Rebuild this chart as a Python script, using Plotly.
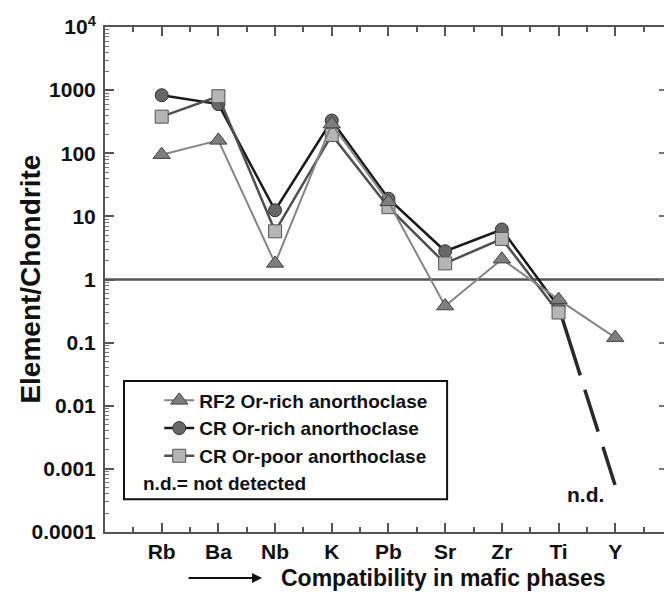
import plotly.graph_objects as go

elements = ["Rb", "Ba", "Nb", "K", "Pb", "Sr", "Zr", "Ti", "Y"]
rf2_or_rich = [95, 160, 1.8, 290, 17, 0.38, 2.1, 0.48, 0.12]
cr_or_rich = [830, 600, 12.5, 330, 19, 2.8, 6.2, 0.37, None]
cr_or_poor = [380, 800, 5.8, 195, 14, 1.8, 4.4, 0.30, None]
nd_level = 0.00054  # plotted position of "not detected" Y for CR samples

ytick_vals = [1e-4, 1e-3, 1e-2, 1e-1, 1, 10, 100, 1000, 1e4]
ytick_text = ["0.0001", "0.001", "0.01", "0.1", "1", "10", "100", "1000", "10<sup>4</sup>"]

xpos = list(range(1, len(elements) + 1))
FONT = "Liberation Sans, Arial, Helvetica, sans-serif"

fig = go.Figure()

# n.d. dashed continuation (CR samples, Ti -> Y)
fig.add_trace(go.Scatter(
    x=[xpos[7], xpos[8]], y=[cr_or_rich[7], nd_level], mode="lines",
    line=dict(color="#2a2a2a", width=3.5, dash="72px,15px,44px,16px,40px"),
    showlegend=False, hoverinfo="skip"))

fig.add_trace(go.Scatter(
    x=xpos, y=cr_or_rich, mode="lines+markers", name="CR Or-rich anorthoclase",
    line=dict(color="#1a1a1a", width=2.5),
    marker=dict(symbol="circle", size=13, color="#676767", line=dict(color="#333333", width=1)),
    legendrank=2))

fig.add_trace(go.Scatter(
    x=xpos, y=cr_or_poor, mode="lines+markers", name="CR Or-poor anorthoclase",
    line=dict(color="#505050", width=2.5),
    marker=dict(symbol="square", size=13, color="#b5b5b5", line=dict(color="#555555", width=1)),
    legendrank=3))

fig.add_trace(go.Scatter(
    x=xpos, y=rf2_or_rich, mode="lines+markers", name="RF2 Or-rich anorthoclase",
    line=dict(color="#858585", width=2),
    marker=dict(symbol="triangle-up", size=15, color="#7e7e7e", line=dict(color="#444444", width=1)),
    legendrank=1))

# dummy trace for right-side ticks
fig.add_trace(go.Scatter(x=[], y=[], yaxis="y2", showlegend=False))

minor_y = [m * 10 ** e for e in range(-4, 4) for m in range(2, 10)]
minor_x = [i + 0.5 for i in range(0, 10)]

fig.update_layout(
    width=664, height=596,
    margin=dict(l=105, r=0, t=27, b=64),
    paper_bgcolor="white", plot_bgcolor="white",
    font=dict(family=FONT, color="black"),
    showlegend=True,
    legend=dict(x=0.097, y=0.298, xanchor="left", yanchor="top",
                bgcolor="rgba(0,0,0,0)", borderwidth=0,
                font=dict(family=FONT, size=19, weight="bold", color="#111"),
                traceorder="normal", tracegroupgap=0),
    xaxis=dict(range=[0, 9.86], showgrid=False, zeroline=False,
               showline=True, linecolor="#555", linewidth=2, mirror="ticks",
               tickmode="array", tickvals=xpos, ticktext=elements,
               ticks="inside", ticklen=9, tickwidth=1.5, tickcolor="#555",
               tickfont=dict(family=FONT, size=21, weight="bold", color="#111"),
               minor=dict(tickmode="array", tickvals=minor_x, ticks="inside",
                          ticklen=5, tickwidth=1.5, tickcolor="#555")),
    yaxis=dict(type="log", range=[-4, 4], showgrid=False, zeroline=False,
               showline=True, linecolor="#555", linewidth=2, mirror=False,
               tickmode="array", tickvals=ytick_vals, ticktext=ytick_text,
               ticks="inside", ticklen=9, tickwidth=1.5, tickcolor="#555",
               ticklabelstandoff=3,
               tickfont=dict(family=FONT, size=21, weight="bold", color="#111"),
               minor=dict(tickmode="array", tickvals=minor_y, ticks="inside",
                          ticklen=4, tickwidth=1, tickcolor="#777")),
    yaxis2=dict(type="log", range=[-4, 4], overlaying="y", side="right",
                showgrid=False, zeroline=False, showline=False,
                tickmode="array", tickvals=ytick_vals, showticklabels=False,
                ticks="inside", ticklen=5, tickwidth=1.5, tickcolor="#777"),
)

# horizontal reference line at 1
fig.add_shape(type="line", xref="paper", yref="y", x0=0, x1=1, y0=1, y1=1,
              line=dict(color="#555", width=2.5), layer="below")

# legend box
fig.add_shape(type="rect", xref="paper", yref="paper",
              x0=0.034, x1=0.612, y0=0.065, y1=0.299,
              line=dict(color="#111", width=2), fillcolor="rgba(0,0,0,0)")

fig.add_annotation(text="n.d.= not detected", xref="paper", yref="paper",
                   x=0.064, y=0.097, xanchor="left", yanchor="middle", showarrow=False,
                   font=dict(family=FONT, size=19, weight="bold", color="#111"))

fig.add_annotation(text="n.d.", xref="paper", yref="paper",
                   x=0.860, y=0.075, xanchor="center", yanchor="middle", showarrow=False,
                   font=dict(family=FONT, size=21, weight="bold", color="#111"))

# axis titles
fig.add_annotation(text="Element/Chondrite", xref="paper", yref="paper",
                   x=-0.134, y=0.5, textangle=-90, showarrow=False,
                   xanchor="center", yanchor="middle",
                   font=dict(family=FONT, size=28, weight="bold", color="#111"))
fig.add_annotation(text="Compatibility in mafic phases", xref="paper", yref="paper",
                   x=0.6055, y=-0.091, showarrow=False,
                   xanchor="center", yanchor="middle",
                   font=dict(family=FONT, size=23, weight="bold", color="#111"))
fig.add_annotation(text="", xref="paper", yref="paper",
                   x=0.281, y=-0.091, ax=-75, ay=0, showarrow=True,
                   arrowhead=2, arrowsize=1, arrowwidth=2, arrowcolor="#111")

fig.write_html("out.html")
